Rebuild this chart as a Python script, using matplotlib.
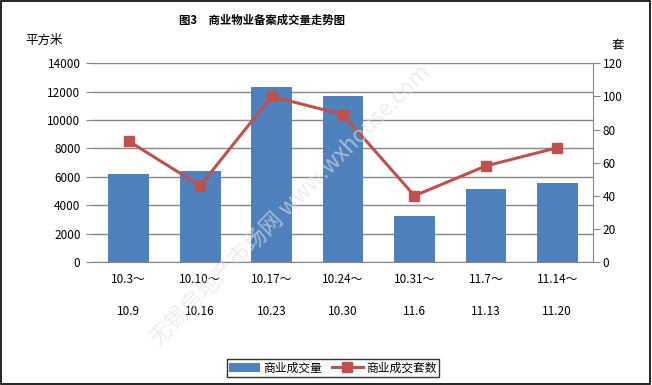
import matplotlib.pyplot as plt
import numpy as np
from matplotlib.patches import Rectangle

plt.rcParams['font.family'] = ['Noto Sans CJK SC', 'DejaVu Sans']

weeks = ['10.3～\n10.9', '10.10～\n10.16', '10.17～\n10.23', '10.24～\n10.30',
         '10.31～\n11.6', '11.7～\n11.13', '11.14～\n11.20']
area = [6200, 6400, 12330, 11700, 3240, 5140, 5570]      # 商业成交量 (平方米)
units = [73, 46, 100, 89, 40, 58, 69]                   # 商业成交套数 (套)

bar_color = '#4F81BD'
line_color = '#C0504D'
grid_color = '#868686'

fig = plt.figure(figsize=(6.52, 3.85), dpi=100)
fig.patches.append(Rectangle((0.002, 0.003), 0.995, 0.994, transform=fig.transFigure,
                             fill=False, edgecolor='black', linewidth=1.2))

ax = fig.add_axes([93 / 652, 123 / 385, 500 / 652, 198.7 / 385])
x = np.arange(len(weeks))
ax.bar(x, area, width=0.57, color=bar_color, zorder=2, label='商业成交量')
ax.set_xlim(-0.5, len(weeks) - 0.5)
ax.set_ylim(0, 14000)
ax.set_yticks(np.arange(0, 14001, 2000))
ax.grid(axis='y', color=grid_color, linewidth=1, zorder=0)
ax.set_xticks(x)
ax.set_xticklabels(weeks, fontsize=8.5, linespacing=2.9)
ax.tick_params(axis='x', length=0, pad=8)
ax.tick_params(axis='y', labelsize=8.5, length=5, color=grid_color, pad=4)
for s in ['top', 'left', 'right']:
    ax.spines[s].set_visible(False)
ax.spines['bottom'].set_color(grid_color)

ax2 = ax.twinx()
ax2.plot(x, units, color=line_color, linewidth=2.2, marker='s', markersize=7,
         zorder=3, label='商业成交套数')
ax2.set_ylim(0, 120)
ax2.set_yticks(np.arange(0, 121, 20))
ax2.tick_params(axis='y', labelsize=8.5, length=5, color=grid_color, pad=2)
for s in ['top', 'left', 'bottom']:
    ax2.spines[s].set_visible(False)
ax2.spines['right'].set_color(grid_color)

fig.text(262 / 652, 1 - 20 / 385, '图3　商业物业备案成交量走势图', ha='center', va='center',
         fontsize=8.2, fontweight='bold')
fig.text(25 / 652, 1 - 40 / 385, '平方米', ha='left', va='center', fontsize=9)
fig.text(618 / 652, 1 - 45 / 385, '套', ha='center', va='center', fontsize=9)

# faint watermark
fig.text(290 / 652, 1 - 205 / 385, '无锡房地产市场网 www.wxhouse.com', rotation=45,
         ha='center', va='center', fontsize=16, color='#e2e2e2', alpha=0.6, zorder=10)

h1, l1 = ax.get_legend_handles_labels()
h2, l2 = ax2.get_legend_handles_labels()
leg = fig.legend(h1 + h2, l1 + l2, loc='center', bbox_to_anchor=(333 / 652, 1 - 368 / 385),
                 ncol=2, fontsize=8.5, frameon=True, fancybox=False, edgecolor='black',
                 handlelength=2.6, columnspacing=0.8, borderpad=0.2, handletextpad=0.3)
leg.get_frame().set_linewidth(1)

fig.savefig('out.png', dpi=100)
